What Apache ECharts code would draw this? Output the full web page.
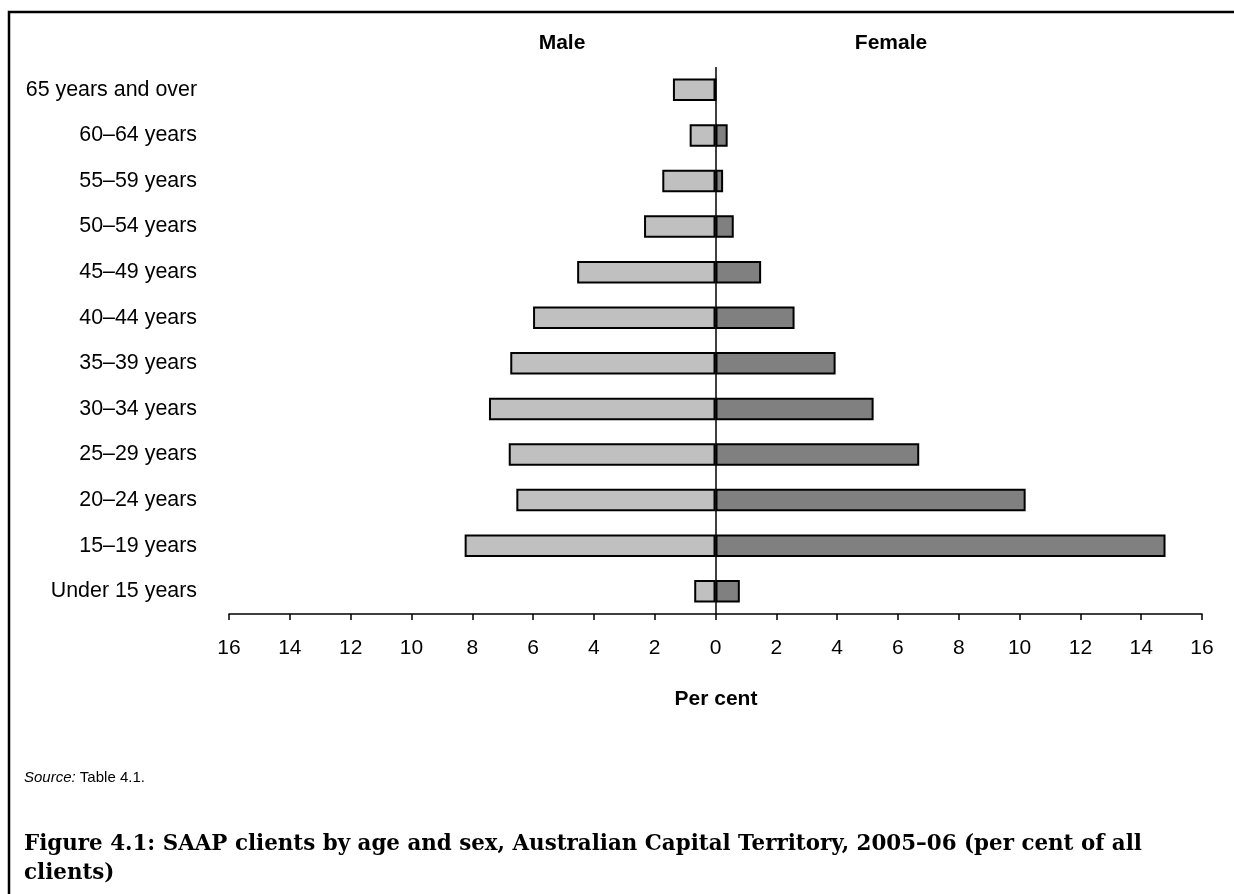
<!DOCTYPE html>
<html>
<head>
<meta charset="utf-8">
<style>
  html, body { margin: 0; padding: 0; background: #fff; }
  #chart { width: 1234px; height: 894px; }
</style>
<script src="https://cdn.jsdelivr.net/npm/echarts@6/dist/echarts.min.js"></script>
</head>
<body>
<div id="chart"></div>
<script>
// Categories, top to bottom as shown
const categories = [
  '65 years and over', '60–64 years', '55–59 years', '50–54 years',
  '45–49 years', '40–44 years', '35–39 years', '30–34 years',
  '25–29 years', '20–24 years', '15–19 years', 'Under 15 years'
];
// Per cent of all clients
const maleValues   = [1.4, 0.85, 1.75, 2.35, 4.55, 6.0, 6.75, 7.45, 6.8, 6.55, 8.25, 0.7];
const femaleValues = [0, 0.4, 0.25, 0.6, 1.5, 2.6, 3.95, 5.2, 6.7, 10.2, 14.8, 0.8];
const xTicks = { min: -16, max: 16, interval: 2 };

const chart = echarts.init(document.getElementById('chart'));
const font = 'Liberation Sans, Arial, sans-serif';

chart.setOption({
  animation: false,
  backgroundColor: '#fff',
  grid: { left: 229, right: 32, top: 67, bottom: 280, containLabel: false },
  xAxis: {
    type: 'value',
    min: xTicks.min, max: xTicks.max, interval: xTicks.interval,
    axisLine: { show: true, onZero: false, lineStyle: { color: '#000', width: 1.5 } },
    axisTick: { show: true, length: 6, lineStyle: { color: '#000', width: 1.5 } },
    splitLine: { show: false },
    axisLabel: {
      color: '#000', fontFamily: font, fontSize: 21, margin: 24,
      formatter: v => String(Math.abs(v))
    }
  },
  yAxis: {
    type: 'category',
    data: categories,
    inverse: true,
    axisLine: { show: false },
    axisTick: { show: false },
    axisLabel: { color: '#000', fontFamily: font, fontSize: 21.4, margin: 32 }
  },
  series: [
    {
      name: 'Male', type: 'bar', barWidth: 22.5, barGap: '-100%',
      data: maleValues.map(v => -v),
      itemStyle: { color: '#c0c0c0', borderColor: '#000', borderWidth: 2 }
    },
    {
      name: 'Female', type: 'bar', barWidth: 22.5, barGap: '-100%',
      data: femaleValues,
      itemStyle: { color: '#808080', borderColor: '#000', borderWidth: 2 },
      markLine: {
        silent: true, symbol: 'none', label: { show: false },
        lineStyle: { color: '#000', width: 1.5, type: 'solid' },
        data: [{ xAxis: 0 }]
      }
    }
  ],
  graphic: [
    { type: 'polyline', shape: { points: [[9, 894], [9, 12], [1234, 12]] },
      style: { stroke: '#000', lineWidth: 2.5, fill: null } },
    { type: 'text', x: 562, y: 43, style: { text: 'Male', font: 'bold 21px ' + font, fill: '#000', textAlign: 'center', textVerticalAlign: 'middle' } },
    { type: 'text', x: 891, y: 43, style: { text: 'Female', font: 'bold 21px ' + font, fill: '#000', textAlign: 'center', textVerticalAlign: 'middle' } },
    { type: 'text', x: 716, y: 699, style: { text: 'Per cent', font: 'bold 21px ' + font, fill: '#000', textAlign: 'center', textVerticalAlign: 'middle' } },
    { type: 'text', x: 24, y: 778, style: {
        rich: { i: { fontStyle: 'italic', fontFamily: font, fontSize: 15, fill: '#000' }, n: { fontFamily: font, fontSize: 15, fill: '#000' } },
        text: '{i|Source:}{n| Table 4.1.}', textVerticalAlign: 'middle' } },
    { type: 'text', x: 24, y: 844, style: { text: 'Figure 4.1: SAAP clients by age and sex, Australian Capital Territory, 2005–06 (per cent of all', font: 'bold 21.4px DejaVu Serif, serif', fill: '#000', textVerticalAlign: 'middle' } },
    { type: 'text', x: 24, y: 873, style: { text: 'clients)', font: 'bold 21.4px DejaVu Serif, serif', fill: '#000', textVerticalAlign: 'middle' } }
  ]
});
</script>
</body>
</html>
